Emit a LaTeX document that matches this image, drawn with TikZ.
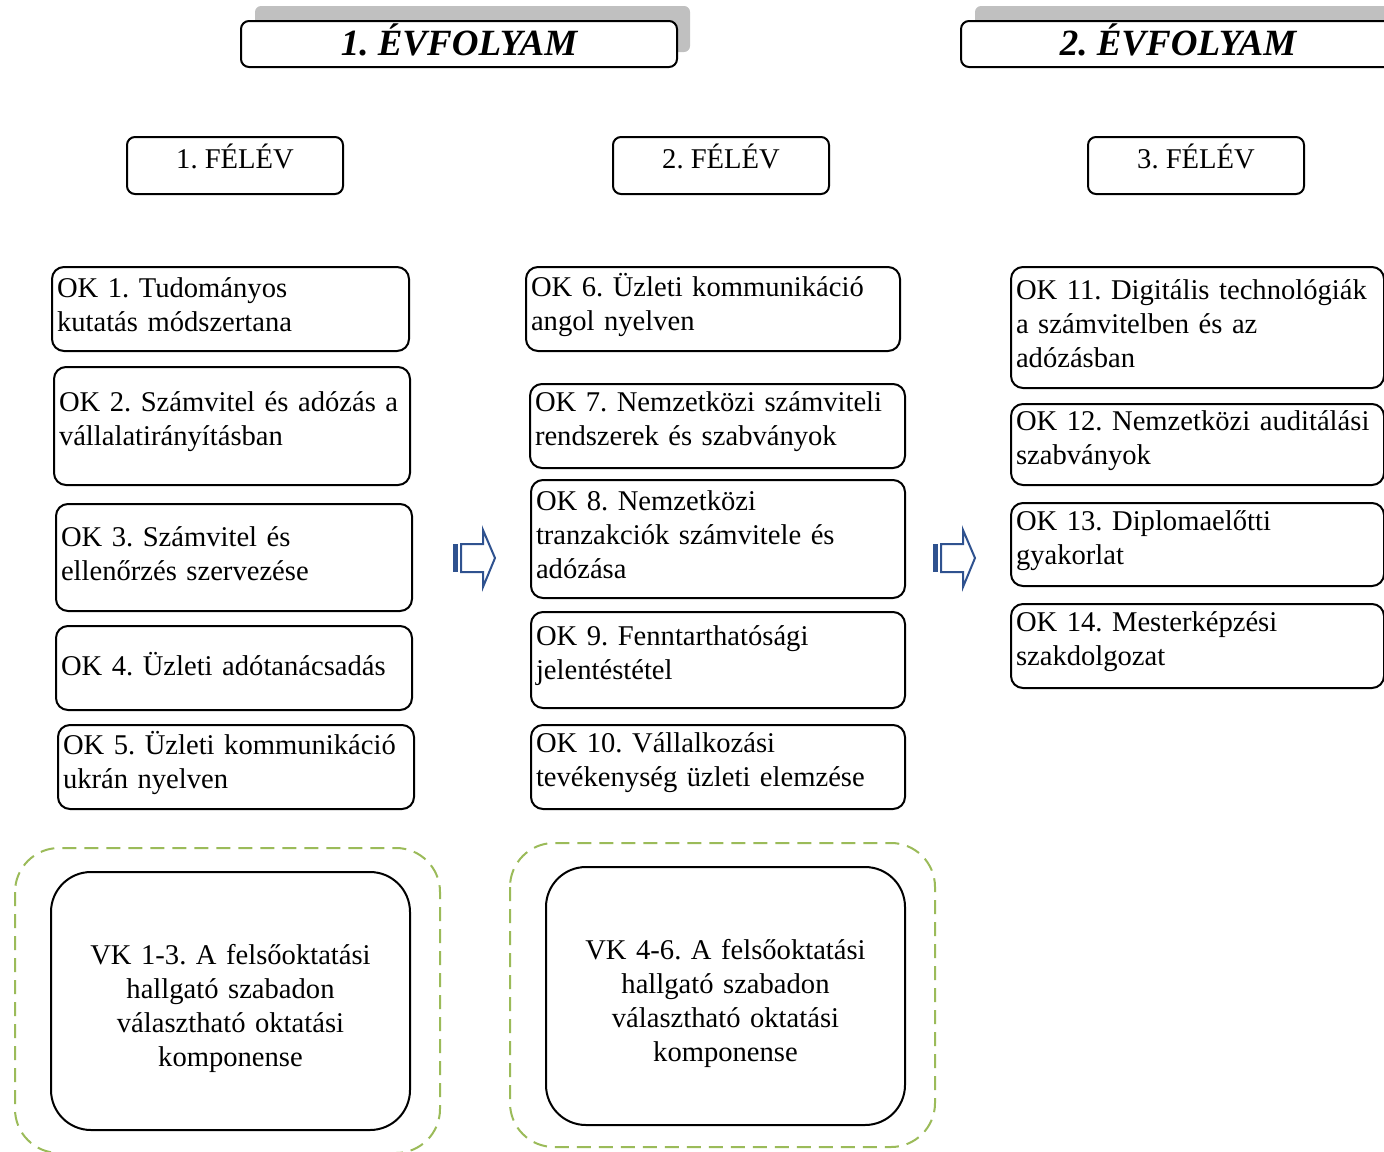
\documentclass[tikz,border=0pt]{standalone}
\usepackage{fontspec}
\setmainfont{Liberation Serif}
\usepackage{tikz}

\definecolor{arrowblue}{RGB}{47,82,143}
\definecolor{dashgreen}{RGB}{155,187,89}
\definecolor{shadowgray}{RGB}{192,192,192}

\begin{document}
\frenchspacing
\begin{tikzpicture}[x=0.5pt,y=-0.5pt,line width=1pt,
	ev node/.style={draw,fill=white,rounded corners=4pt,anchor=north west,inner sep=0pt,
		text height=17pt,text depth=6pt,font=\fontsize{18.5pt}{21pt}\selectfont\bfseries\itshape},
	felev node/.style={draw,rounded corners=4pt,anchor=north west,inner ysep=0pt,
		minimum width=108pt,text height=15.75pt,text depth=12.75pt,font=\fontsize{14.3pt}{17pt}\selectfont},
	ok node/.style={draw,rounded corners=6pt,anchor=north west,align=left,inner xsep=2.5pt,
		inner ysep=0pt,font=\fontsize{14.3pt}{17pt}\selectfont,
		execute at end node={\endgraf\vspace*{4pt}}},
	vk node/.style={draw,rounded corners=20pt,anchor=north west,align=center,inner xsep=2.5pt,
		text width=174.5pt,minimum height=129pt,font=\fontsize{14.3pt}{17pt}\selectfont,
		execute at end node={\endgraf\vspace*{-7pt}}},
	vk frame/.style={draw=dashgreen,dash pattern=on 7pt off 4pt,rounded corners=22pt}]
	
	\useasboundingbox (0,0) rectangle (1384,1151);
	
	% evfolyam headers
	\fill[shadowgray,rounded corners=3pt] (255,6) rectangle (690,52);
	\fill[shadowgray,rounded corners=3pt] (975,6) rectangle (1410,52);
	\node[ev node,minimum width=218pt] (ev1) at (240,20) {1. ÉVFOLYAM};
	\node[ev node,minimum width=217pt] (ev2) at (960,20) {2. ÉVFOLYAM};
	
	% felev
	\node[felev node] (f1) at (126,136) {1. FÉLÉV};
	\node[felev node] (f2) at (612,136) {2. FÉLÉV};
	\node[felev node] (f3) at (1087,136) {3. FÉLÉV};
	
	% 1. felev
	\node[ok node,text width=173.5pt,minimum height=42pt] (ok1) at (51,266) {OK 1. Tudományos\\kutatás módszertana};
	\node[ok node,text width=173pt,minimum height=59pt] (ok2) at (53,366) {OK 2. Számvitel és adózás a\\vállalatirányításban};
	\node[ok node,text width=173pt,minimum height=53.5pt] (ok3) at (55,503) {OK 3. Számvitel és\\ellenőrzés szervezése};
	\node[ok node,text width=173pt,minimum height=42pt] (ok4) at (55,625) {OK 4. Üzleti adótanácsadás};
	\node[ok node,text width=173pt,minimum height=42pt] (ok5) at (57,724) {OK 5. Üzleti kommunikáció\\ukrán nyelven};
	
	% 2. felev
	\node[ok node,text width=182pt,minimum height=42pt] (ok6) at (525,266) {OK 6. Üzleti kommunikáció\\angol nyelven};
	\node[ok node,text width=182.5pt,minimum height=42pt] (ok7) at (529,383) {OK 7. Nemzetközi számviteli\\rendszerek és szabványok};
	\node[ok node,text width=182pt,minimum height=59pt] (ok8) at (530,479) {OK 8. Nemzetközi\\tranzakciók számvitele és\\adózása};
	\node[ok node,text width=182pt,minimum height=48pt] (ok9) at (530,611) {OK 9. Fenntarthatósági\\jelentéstétel};
	\node[ok node,text width=182pt,minimum height=42pt] (ok10) at (530,724) {OK 10. Vállalkozási\\tevékenység üzleti elemzése};
	
	% 3. felev
	\node[ok node,text width=181.5pt,minimum height=60.5pt] (ok11) at (1010,266) {OK 11. Digitális technológiák\\a számvitelben és az\\adózásban};
	\node[ok node,text width=181.5pt,minimum height=40.5pt] (ok12) at (1010,403) {OK 12. Nemzetközi auditálási\\szabványok};
	\node[ok node,text width=181.5pt,minimum height=41.5pt] (ok13) at (1010,502) {OK 13. Diplomaelőtti\\gyakorlat};
	\node[ok node,text width=181.5pt,minimum height=42pt] (ok14) at (1010,603) {OK 14. Mesterképzési\\szakdolgozat};
	
	% valaszthato komponensek
	\draw[vk frame] (15,848) rectangle (440,1153);
	\draw[vk frame] (510,843) rectangle (935,1147);
	\node[vk node] (vk1) at (50,871) {VK 1-3. A felsőoktatási\\hallgató szabadon\\választható oktatási\\komponense};
	\node[vk node] (vk2) at (545,866) {VK 4-6. A felsőoktatási\\hallgató szabadon\\választható oktatási\\komponense};
	
	% nyilak
	\foreach \dx in {0,480}{
		\begin{scope}[shift={(\dx,0)},arrowblue]
			\fill (453,544) rectangle (458,572);
			\draw (461,544) -- (483,544) -- (483,530) -- (495,558) -- (483,587) -- (483,572) -- (461,572) -- cycle;
		\end{scope}
	}
	
\end{tikzpicture}
\end{document}
